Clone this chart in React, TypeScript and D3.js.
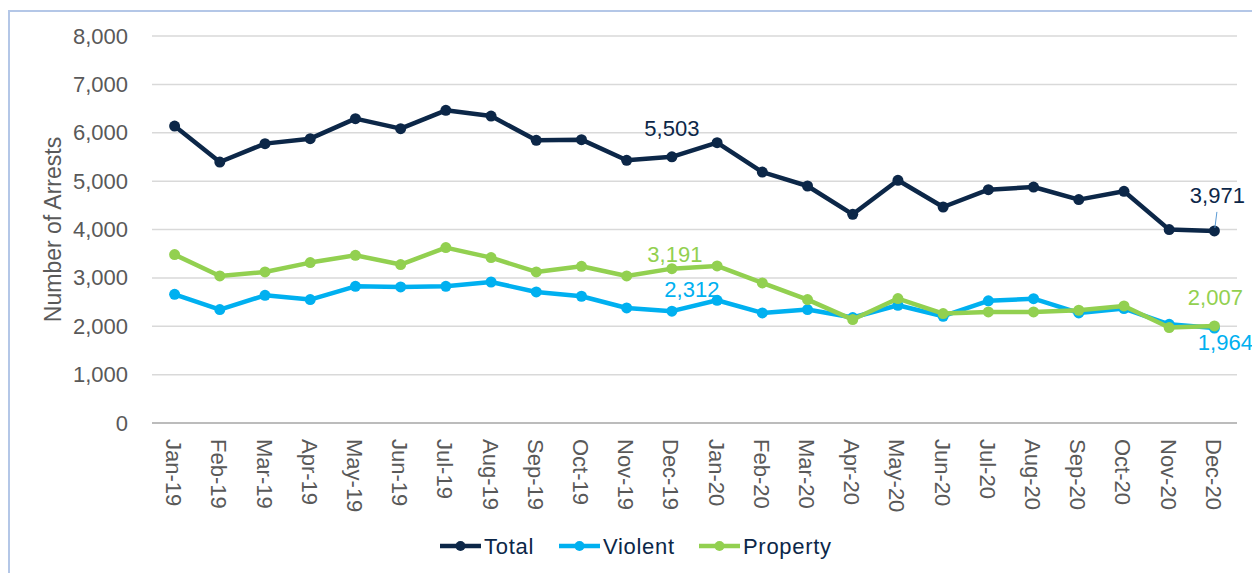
import React from "react";
import * as d3 from "d3";

const months = [
  "Jan-19", "Feb-19", "Mar-19", "Apr-19", "May-19", "Jun-19", "Jul-19", "Aug-19", "Sep-19", "Oct-19", "Nov-19", "Dec-19",
  "Jan-20", "Feb-20", "Mar-20", "Apr-20", "May-20", "Jun-20", "Jul-20", "Aug-20", "Sep-20", "Oct-20", "Nov-20", "Dec-20",
];

const totalValues = [
  6138, 5395, 5775, 5878, 6291, 6085, 6463, 6345, 5843, 5857, 5430, 5503,
  5795, 5188, 4899, 4314, 5017, 4465, 4824, 4878, 4618, 4789, 3998, 3971,
];

const violentValues = [
  2661, 2345, 2640, 2551, 2826, 2812, 2826, 2915, 2709, 2620, 2378, 2312,
  2537, 2275, 2345, 2180, 2434, 2207, 2525, 2570, 2275, 2366, 2040, 1964,
];

const propertyValues = [
  3481, 3040, 3122, 3316, 3467, 3275, 3626, 3419, 3122, 3240, 3040, 3191,
  3246, 2895, 2551, 2138, 2572, 2262, 2296, 2296, 2331, 2420, 1973, 2007,
];

const yTicks = [0, 1000, 2000, 3000, 4000, 5000, 6000, 7000, 8000];

const seriesNames = ["Total", "Violent", "Property"];
const seriesColors = ["#0C2748", "#00B0F0", "#92D050"];

// labelled points: series index, month index, offsets
const dataLabels = [
  { s: 0, i: 11, dx: 0, dy: -21 },
  { s: 2, i: 11, dx: 3, dy: -7 },
  { s: 1, i: 11, dx: 20, dy: -14 },
  { s: 0, i: 23, dx: 3, dy: -28 },
  { s: 2, i: 23, dx: 1, dy: -21 },
  { s: 1, i: 23, dx: 11, dy: 22 },
];

const W = 1252;
const H = 573;
const FONT = "'Liberation Sans', Arial, sans-serif";

export default function App() {
  const series = [totalValues, violentValues, propertyValues];

  const x = d3.scaleBand<string>().domain(months).range([152, 1237]).padding(0);
  const cx = (m: string) => (x(m) as number) + x.bandwidth() / 2;
  const y = d3.scaleLinear().domain([0, 8000]).range([423, 36]);
  const fmt = d3.format(",");

  const line = d3
    .line<number>()
    .x((_, i) => cx(months[i]))
    .y((d) => y(d));

  const legendX = [440, 559, 699];

  return (
    <svg
      width={W}
      height={H}
      style={{ position: "absolute", left: 0, top: 0, display: "block", background: "#fff" }}
      fontFamily={FONT}
    >
      <rect x={0} y={0} width={W} height={H} fill="#fff" />
      {/* frame */}
      <rect x={9} y={11} width={1260} height={600} fill="none" stroke="#B4C7E7" strokeWidth={2} />

      {/* gridlines */}
      {yTicks.map((t) => (
        <line
          key={t}
          x1={152}
          x2={1237}
          y1={y(t)}
          y2={y(t)}
          stroke={t === 0 ? "#A6A6A6" : "#D9D9D9"}
          strokeWidth={1.5}
        />
      ))}

      {/* y tick labels */}
      {yTicks.map((t) => (
        <text
          key={"yl" + t}
          x={128}
          y={y(t)}
          textAnchor="end"
          dominantBaseline="central"
          fontSize={22}
          fill="#595959"
        >
          {fmt(t)}
        </text>
      ))}

      {/* y axis title */}
      <text
        transform={`translate(53, ${(y(0) + y(8000)) / 2}) rotate(-90)`}
        textAnchor="middle"
        dominantBaseline="central"
        fontSize={23}
        fill="#595959"
      >
        Number of Arrests
      </text>

      {/* x labels */}
      {months.map((m) => (
        <text
          key={m}
          transform={`translate(${cx(m) - 1}, 439) rotate(90)`}
          textAnchor="start"
          dominantBaseline="central"
          fontSize={22}
          fill="#595959"
        >
          {m}
        </text>
      ))}

      {/* series */}
      {series.map((vals, si) => (
        <g key={seriesNames[si]}>
          <path
            d={line(vals) as string}
            fill="none"
            stroke={seriesColors[si]}
            strokeWidth={4.5}
            strokeLinejoin="round"
          />
          {vals.map((v, i) => (
            <circle key={i} cx={cx(months[i])} cy={y(v)} r={5.5} fill={seriesColors[si]} />
          ))}
        </g>
      ))}

      {/* leader line for last total label */}
      <line
        x1={cx(months[23]) + 2.5}
        y1={y(totalValues[23]) - 19}
        x2={cx(months[23]) + 0.5}
        y2={y(totalValues[23]) - 3}
        stroke="#5B9BD5"
        strokeWidth={1}
      />

      {/* data labels */}
      {dataLabels.map((l, k) => (
        <text
          key={"dl" + k}
          x={cx(months[l.i]) + l.dx}
          y={y(series[l.s][l.i]) + l.dy}
          textAnchor="middle"
          fontSize={22}
          fill={seriesColors[l.s]}
        >
          {fmt(series[l.s][l.i])}
        </text>
      ))}

      {/* legend */}
      {seriesNames.map((n, i) => (
        <g key={"lg" + n}>
          <line x1={legendX[i]} x2={legendX[i] + 41} y1={546} y2={546} stroke={seriesColors[i]} strokeWidth={4.5} />
          <circle cx={legendX[i] + 20.5} cy={546} r={5} fill={seriesColors[i]} />
          <text
            x={legendX[i] + 44}
            y={546}
            dominantBaseline="central"
            fontSize={22}
            letterSpacing={0.7}
            fill="#0C2748"
          >
            {n}
          </text>
        </g>
      ))}
    </svg>
  );
}
